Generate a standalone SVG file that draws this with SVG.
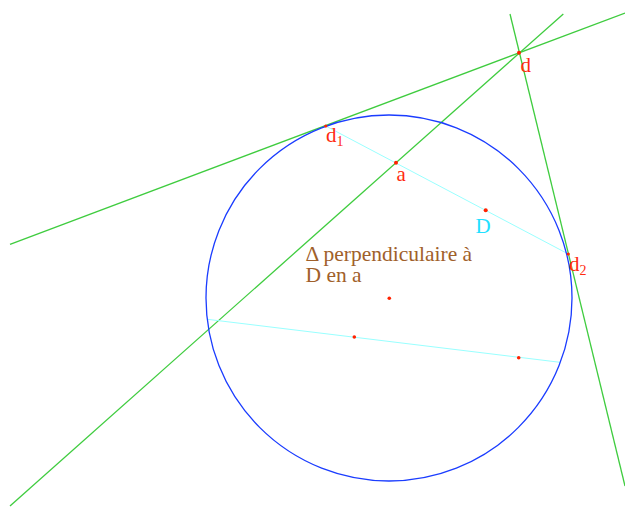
<svg xmlns="http://www.w3.org/2000/svg" width="625" height="513" viewBox="0 0 625 513">
<style>
.g{stroke:#3fcc3f;stroke-width:1.3;fill:none}
.c{stroke:#99ffff;stroke-width:1;fill:none}
.circ{stroke:#1a3cff;stroke-width:1.3;fill:none}
.pt{fill:#ff2200}
.lbl{font-size:21px;fill:#ff2a10}
.sub{font-size:14px}
.txt{font-size:21.5px;fill:#a0602a}
</style>
<rect width="625" height="513" fill="#ffffff"/>
<g id="lines">
<line class="g" x1="10" y1="244.3" x2="625" y2="13"/>
<line class="g" x1="510" y1="14" x2="625" y2="486"/>
<line class="g" x1="10" y1="506" x2="563.3" y2="14"/>
<line class="c" x1="325.8" y1="126" x2="568.3" y2="254"/>
<line class="c" x1="207.3" y1="319.3" x2="560" y2="362.3"/>
</g>
<g id="circle"><circle class="circ" cx="389" cy="298" r="183"/></g>
<g id="points">
<circle class="pt" cx="519" cy="52.7" r="2"/>
<circle class="pt" cx="325.8" cy="126" r="1.6"/>
<circle class="pt" cx="396" cy="162.7" r="2"/>
<circle class="pt" cx="485.7" cy="210.3" r="2"/>
<circle class="pt" cx="568.3" cy="254" r="1.6"/>
<circle class="pt" cx="389.3" cy="298.3" r="1.8"/>
<circle class="pt" cx="354.3" cy="337" r="1.8"/>
<circle class="pt" cx="518.7" cy="357.7" r="1.8"/>
</g>
<g id="labels" font-family="'Liberation Serif', 'DejaVu Serif', serif">
<text class="lbl" x="520.5" y="71.7">d</text>
<text class="lbl" x="326" y="141.7">d<tspan class="sub" dy="4">1</tspan></text>
<text class="lbl" x="396.5" y="181">a</text>
<text class="lbl" x="475.5" y="232.7" style="fill:#22e0ff">D</text>
<text class="lbl" x="569" y="270.7">d<tspan class="sub" dy="4">2</tspan></text>
<text class="txt" x="305.5" y="260.7">Δ perpendiculaire à</text>
<text class="txt" x="305.5" y="282.3">D en a</text>
</g>
</svg>
